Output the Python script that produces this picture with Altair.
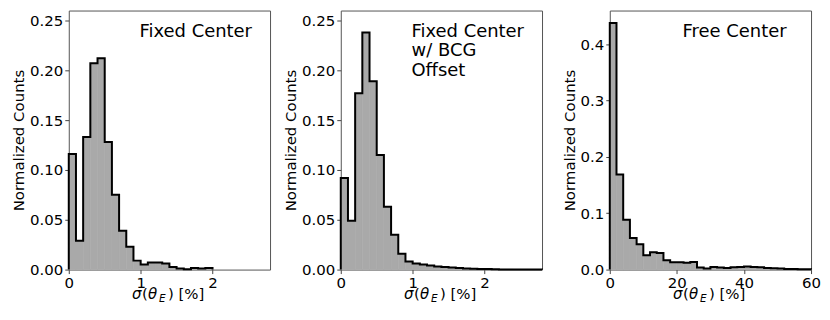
import altair as alt
import pandas as pd

FONT = "DejaVu Sans"
FILL = "#a9a9a9"

# ---------------- data ----------------
fixed_bin_width = 0.1
fixed_values = [0.116, 0.029, 0.133, 0.207, 0.212, 0.128, 0.075, 0.039, 0.023, 0.009,
                0.005, 0.007, 0.007, 0.006, 0.0027, 0.001, 0.0003, 0.0017, 0.001, 0.0015]

bcg_bin_width = 0.1
bcg_values = [0.092, 0.049, 0.177, 0.238, 0.189, 0.115, 0.063, 0.035, 0.016, 0.008,
              0.006, 0.005, 0.004, 0.003, 0.0025, 0.002, 0.0015, 0.001, 0.0008, 0.0006,
              0.0005, 0.0003, 0.0002, 0.0002, 0.0001, 0.0001, 0.0001, 0.0001]

free_bin_width = 2.0
free_values = [0.438, 0.169, 0.0885, 0.056, 0.045, 0.0254, 0.031, 0.0295, 0.0165, 0.013,
               0.013, 0.012, 0.0136, 0.0035, 0.002, 0.0047, 0.0035, 0.003, 0.004, 0.0047,
               0.0053, 0.0047, 0.004, 0.003, 0.0024, 0.0018, 0.0012, 0.0012, 0.0006, 0.0006]

panel_labels = ["Fixed Center", "Fixed Center\nw/ BCG\nOffset", "Free Center"]
x_ticks_fixed = [0, 1, 2]
x_ticks_free = [0, 20, 40, 60]
y_ticks_fixed = [0.0, 0.05, 0.10, 0.15, 0.20, 0.25]
y_ticks_free = [0.0, 0.1, 0.2, 0.3, 0.4]
y_title = "Normalized Counts"
# x title pieces: text, offset from centre, font size, style, baseline shift
x_title_parts = [("σ", -37.5, 15, "italic", 0),
                 ("(", -27.5, 15, "normal", 0),
                 ("θ", -21.5, 15, "italic", 0),
                 ("E", -10.5, 10.5, "italic", 2.5),
                 (") [%]", -1.5, 15, "normal", 0)]

W, H = 202, 260


def make_panel(values, bw, xmax, ymax, xticks, yticks, yfmt, label, label_x):
    n = len(values)
    edges = [round(i * bw, 6) for i in range(n + 1)]
    bar_df = pd.DataFrame({"x": edges[:-1], "x2": edges[1:], "y": values})
    line_df = pd.DataFrame({"x": [0.0] + edges + [edges[-1]],
                            "y": [0.0] + values + [values[-1], 0.0],
                            "o": list(range(n + 3))})
    xs = alt.Scale(domain=[0, xmax], nice=False, zero=False)
    ys = alt.Scale(domain=[0, ymax], nice=False)
    xaxis = alt.Axis(values=xticks, format="d", title=None, labelFlush=False,
                     tickSize=4, labelPadding=2)
    yaxis = alt.Axis(values=yticks, format=yfmt, title=y_title, titlePadding=3,
                     tickSize=4, labelPadding=2)

    bars = alt.Chart(bar_df).mark_rect(color=FILL, stroke=FILL, strokeWidth=0.6).encode(
        x=alt.X("x:Q", scale=xs, axis=xaxis),
        x2="x2:Q",
        y=alt.Y("y:Q", scale=ys, axis=yaxis),
        y2=alt.datum(0),
    )
    line = alt.Chart(line_df).mark_line(interpolate="step-after", color="black",
                                        strokeWidth=2, strokeJoin="miter").encode(
        x=alt.X("x:Q", scale=xs, axis=xaxis),
        y=alt.Y("y:Q", scale=ys, axis=yaxis),
        order=alt.Order("o:Q"),
    )
    one = pd.DataFrame({"k": [0]})
    ann = alt.Chart(one).mark_text(align="left", baseline="top", font=FONT,
                                   fontSize=18, lineBreak="\n", lineHeight=19.5,
                                   color="black").encode(
        x=alt.value(label_x), y=alt.value(12.5), text=alt.value(label))
    parts = []
    for t, dx, fs, st, dy in x_title_parts:
        parts.append(alt.Chart(one).mark_text(align="left", baseline="alphabetic",
                                              font=FONT, fontSize=fs, fontStyle=st,
                                              color="black").encode(
            x=alt.value(W / 2 + dx), y=alt.value(H + 30 + dy), text=alt.value(t)))
    return alt.layer(bars, line, ann, *parts).properties(width=W, height=H)


p1 = make_panel(fixed_values, fixed_bin_width, 2.8, 0.26, x_ticks_fixed, y_ticks_fixed, ".2f", panel_labels[0], 71)
p2 = make_panel(bcg_values, bcg_bin_width, 2.8, 0.26, x_ticks_fixed, y_ticks_fixed, ".2f", panel_labels[1], 71)
p3 = make_panel(free_values, free_bin_width, 60, 0.46, x_ticks_free, y_ticks_free, ".1f", panel_labels[2], 73)

chart = alt.hconcat(alt.hconcat(p1, p2, spacing=12), p3, spacing=14).properties(
    padding={"left": 3, "top": 1, "right": 0, "bottom": 2}
).configure_view(
    stroke="#555", strokeWidth=1
).configure_axis(
    labelFont=FONT, titleFont=FONT, labelFontSize=15, titleFontSize=15,
    titleFontWeight="normal", labelColor="black", titleColor="black",
    tickColor="#444", tickWidth=1, grid=False, domain=False
)

chart.save("out.html", embed_options={"renderer": "svg", "actions": False})
